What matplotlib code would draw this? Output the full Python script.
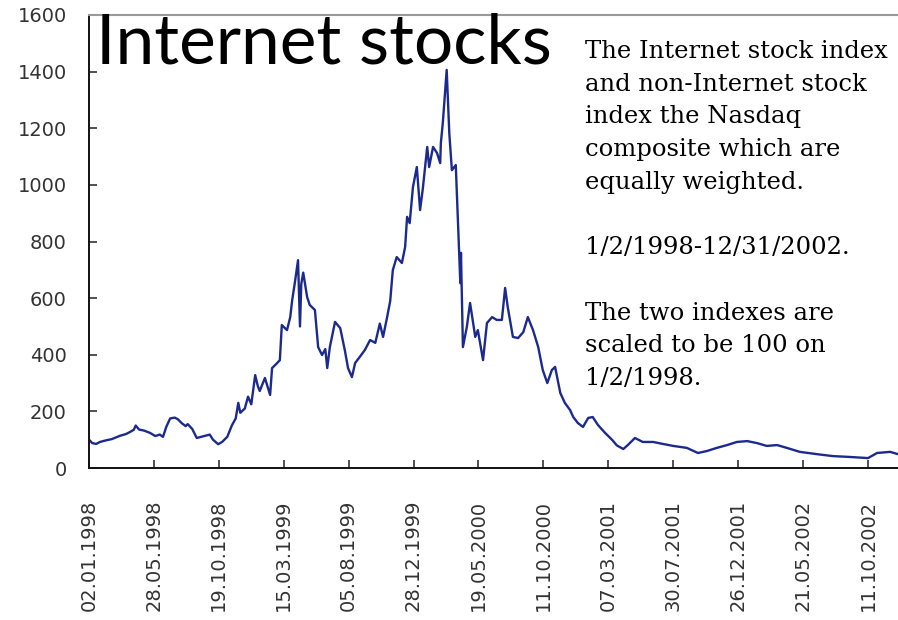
import matplotlib
matplotlib.use('Agg')
import matplotlib.pyplot as plt

# Trading-day index (0 = 1/2/1998) and equally weighted Internet stock index level
day = [0, 5, 11, 17, 25, 35, 48, 57, 63, 69, 72, 77, 85, 94, 102, 109, 114, 119,
       125, 132, 137, 143, 149, 152, 159, 166, 176, 186, 191, 199, 205, 213, 220,
       226, 230, 233, 240, 245, 250, 256, 260, 263, 271, 279, 282, 290, 294, 297,
       305, 310, 313, 317, 322, 325, 327, 330, 336, 340, 348, 353, 359, 364, 367,
       371, 379, 387, 394, 399, 405, 410, 417, 425, 433, 441, 448, 453, 459, 464,
       468, 474, 482, 487, 490, 494, 499, 505, 510, 514, 521, 524, 530, 536, 541,
       542, 545, 551, 555, 559, 565, 568, 572, 573, 576, 582, 587, 595, 599, 607,
       613, 621, 628, 636, 641, 645, 653, 661, 669, 676, 684, 692, 699, 706, 713,
       718, 726, 733, 741, 746, 753, 761, 769, 776, 784, 795, 806, 813, 823, 830,
       841, 853, 869, 884, 900, 921, 938, 952, 967, 983, 998, 1014, 1029, 1044,
       1060, 1075, 1095, 1121, 1146, 1172, 1200, 1214, 1234, 1246, 1257]
index = [100, 88, 85, 92, 97, 102, 114, 120, 127, 135, 150, 136, 132, 124, 113,
         118, 110, 145, 175, 178, 172, 158, 148, 155, 138, 106, 112, 118, 100, 84,
         92, 110, 150, 175, 230, 195, 210, 252, 225, 328, 290, 272, 318, 258, 353,
         371, 381, 505, 487, 533, 593, 653, 734, 500, 650, 690, 604, 576, 558, 427,
         399, 420, 353, 427, 516, 494, 417, 353, 321, 371, 392, 417, 452, 442, 510,
         463, 530, 590, 699, 745, 724, 781, 887, 865, 992, 1063, 911, 982, 1134,
         1063, 1134, 1113, 1077, 1148, 1218, 1406, 1183, 1052, 1070, 887, 653, 760,
         427, 498, 583, 463, 487, 381, 512, 533, 523, 523, 636, 569, 463, 459, 480,
         533, 487, 427, 346, 300, 346, 357, 265, 230, 205, 180, 159, 145, 177, 180,
         152, 124, 99, 80, 67, 81, 106, 92, 92, 85, 78, 71, 53, 60, 71, 81, 92, 95,
         88, 78, 81, 71, 57, 49, 42, 39, 35, 53, 57, 49, 45]

tick_days = [0, 100, 200, 300, 400, 500, 600, 700, 800, 900, 1000, 1100, 1200]
tick_labels = ['02.01.1998', '28.05.1998', '19.10.1998', '15.03.1999',
               '05.08.1999', '28.12.1999', '19.05.2000', '11.10.2000',
               '07.03.2001', '30.07.2001', '26.12.2001', '21.05.2002',
               '11.10.2002']
y_ticks = [0, 200, 400, 600, 800, 1000, 1200, 1400, 1600]

W, H = 898, 620
fig = plt.figure(figsize=(W / 100, H / 100), dpi=100)
fig.patch.set_facecolor('white')
ax = fig.add_axes([89 / W, 152 / H, 816 / W, 453 / H])

ax.plot(day, index, color='#1c2a8e', linewidth=1.7)

ax.set_xlim(0, 1257)
ax.set_ylim(0, 1600)
ax.set_xticks(tick_days)
ax.set_xticklabels(tick_labels, rotation=90)
ax.set_yticks(y_ticks)

ax.tick_params(axis='both', direction='in', length=6, width=1.1,
               labelsize=14, labelcolor='#333333', color='#222222')
ax.tick_params(axis='x', pad=23)
ax.tick_params(axis='y', pad=16)
for lab in ax.get_xticklabels() + ax.get_yticklabels():
    lab.set_family('DejaVu Sans')

ax.spines['right'].set_visible(False)
ax.spines['top'].set_color('#999999')
ax.spines['top'].set_linewidth(1.5)
for s in ['left', 'bottom']:
    ax.spines[s].set_color('#111111')
    ax.spines[s].set_linewidth(1.4)

fig.text(96 / W, 1 - 63 / H, 'Internet stocks', fontsize=50, family='Lato',
         color='black', ha='left', va='baseline')

note = ('The Internet stock index\n'
        'and non-Internet stock\n'
        'index the Nasdaq\n'
        'composite which are\n'
        'equally weighted.\n'
        '\n'
        '1/2/1998-12/31/2002.\n'
        '\n'
        'The two indexes are\n'
        'scaled to be 100 on\n'
        '1/2/1998.')
fig.text(585 / W, 1 - 40 / H, note, fontsize=17.5, family='DejaVu Serif',
         color='black', ha='left', va='top', linespacing=1.54)

fig.savefig('out.png', dpi=100)
